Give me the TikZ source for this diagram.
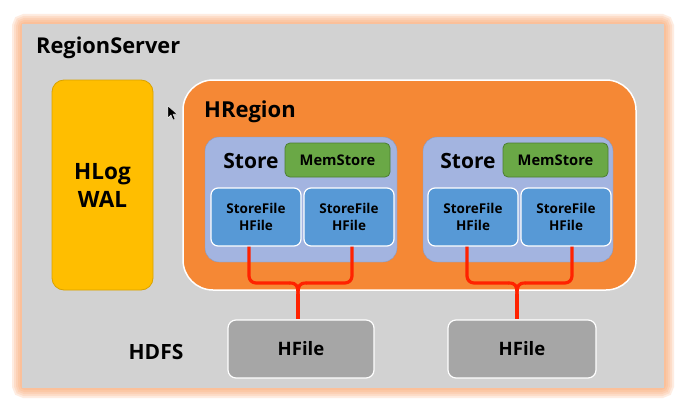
\documentclass[tikz,border=0pt]{standalone}
\usepackage{fontspec}
\setmainfont{Open Sans}
\usetikzlibrary{calc}
\definecolor{bggray}{HTML}{D2D2D2}
\definecolor{glow}{HTML}{FBA46A}
\definecolor{hlogc}{HTML}{FFBE00}
\definecolor{hlogb}{HTML}{D9A200}
\definecolor{hregc}{HTML}{F58835}
\definecolor{storec}{HTML}{A3B4E0}
\definecolor{memc}{HTML}{6AA846}
\definecolor{memb}{HTML}{4C7E31}
\definecolor{sfc}{HTML}{5799D6}
\definecolor{hfc}{HTML}{A6A6A6}
\definecolor{redl}{HTML}{FF2200}
\tikzset{
  lbl/.style={font=\bfseries, text=black, inner sep=0pt},
  hlogbox/.style={draw=hlogb, fill=hlogc, rounded corners=12pt, line width=0.8pt},
  hregbox/.style={draw=white, fill=hregc, rounded corners=30pt, line width=1.5pt},
  storebox/.style={draw=storec!85!black, fill=storec, rounded corners=14pt, line width=0.4pt},
  membox/.style={draw=memb, fill=memc, rounded corners=5pt, line width=0.8pt, lbl, font=\bfseries\fontsize{14.7}{16}\selectfont},
  sfbox/.style={draw=white, fill=sfc, rounded corners=7pt, line width=1.2pt, lbl, align=center, font=\bfseries\fontsize{13.5}{17}\selectfont},
  hfbox/.style={draw=white, fill=hfc, rounded corners=8pt, line width=1.2pt, lbl, font=\bfseries\fontsize{18.5}{20}\selectfont},
  redline/.style={draw=redl, line width=3.2pt}
}
\begin{document}
\begin{tikzpicture}[x=1pt,y=-1pt]
\useasboundingbox (0,0) rectangle (690,412);
\fill[white] (0,0) rectangle (690,412);
% glow
\foreach \w in {20,16,12,8,4} {
  \draw[glow, opacity=0.2, line width=\w pt, rounded corners=3pt] (22,24) rectangle (664,388);
}
\node[fill=bggray, minimum width=642pt, minimum height=364pt, inner sep=0pt] (rs) at (343,206) {};
\node[lbl, anchor=west, font=\bfseries\fontsize{21.8}{24}\selectfont] (rstxt) at (36,48) {RegionServer};
% HLog
\node[hlogbox, minimum width=101pt, minimum height=210pt] (hlog) at (102.5,185) {};
\node[lbl, align=center, font=\bfseries\fontsize{22.5}{28}\selectfont] (hlogtxt) at (102.5,185) {HLog\\WAL};
% cursor
\filldraw[black, draw=white, line width=0.4pt] (168,106) -- (168,118) -- (171,115) -- (173,120) -- (175,119) -- (173,114) -- (177,114) -- cycle;
% HRegion
\node[hregbox, minimum width=453pt, minimum height=210pt] (hreg) at (409.5,185) {};
\node[lbl, anchor=west, font=\bfseries\fontsize{22}{24}\selectfont] (hregtxt) at (204,112) {HRegion};
% Stores
\node[storebox, minimum width=192pt, minimum height=125pt] (st1) at (301,199.5) {};
\node[storebox, minimum width=190pt, minimum height=125pt] (st2) at (518,199.5) {};
\node[lbl, font=\bfseries\fontsize{21}{22}\selectfont] (st1txt) at (251,161) {Store};
\node[lbl, font=\bfseries\fontsize{21}{22}\selectfont] (st2txt) at (468,161) {Store};
\node[membox, minimum width=105pt, minimum height=34pt] (mem1) at (337.5,160) {MemStore};
\node[membox, minimum width=105pt, minimum height=34pt] (mem2) at (555.5,160) {MemStore};
% StoreFiles
\node[sfbox, minimum width=90pt, minimum height=58pt] (sfa) at (256,217) {StoreFile\\HFile};
\node[sfbox, minimum width=90pt, minimum height=58pt] (sfb) at (349,217) {StoreFile\\HFile};
\node[sfbox, minimum width=90pt, minimum height=58pt] (sfc) at (473,217) {StoreFile\\HFile};
\node[sfbox, minimum width=90pt, minimum height=58pt] (sfd) at (566,217) {StoreFile\\HFile};
% HDFS
\node[lbl, font=\bfseries\fontsize{21}{22}\selectfont] (hdfs) at (156,352) {HDFS};
\node[hfbox, minimum width=146pt, minimum height=58pt] (hf1) at (301,349) {HFile};
\node[hfbox, minimum width=148pt, minimum height=58pt] (hf2) at (522,349) {HFile};
% red connectors
\coordinate (j1) at (298,283);
\coordinate (j2) at (517,283);
\foreach \a/\b/\j/\h/\dx/\dy/\dh in {sfa/sfb/j1/hf1/-7/3/-3, sfc/sfd/j2/hf2/-6/6/-5} {
  \draw[redline, rounded corners=7pt] ($(\a.south)+(\dx,0)$) |- ($(\j)+(-8,0)$);
  \draw[redline, rounded corners=7pt] ($(\b.south)+(\dy,0)$) |- ($(\j)+(8,0)$);
  \draw[redline] ($(\j)+(-8.5,0)$) .. controls ($(\j)+(-1,0)$) and ($(\j)+(0,3)$) .. ($(\j)+(0,12)$);
  \draw[redline] ($(\j)+(8.5,0)$) .. controls ($(\j)+(1,0)$) and ($(\j)+(0,3)$) .. ($(\j)+(0,12)$);
  \draw[redline] ($(\j)+(0,11)$) -- ($(\h.north)+(\dh,0)$);
}
\end{tikzpicture}
\end{document}
